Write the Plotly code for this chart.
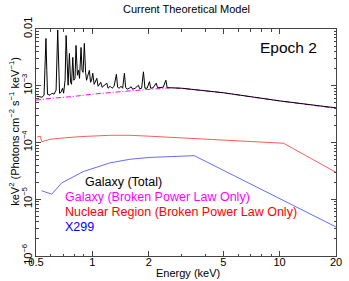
import plotly.graph_objects as go

# ---------------- data ----------------
total_energy = [0.503, 0.525, 0.538, 0.552, 0.562, 0.565, 0.571, 0.576, 0.594, 0.609,
                0.624, 0.640, 0.653, 0.662, 0.668, 0.680, 0.693, 0.702, 0.715, 0.724,
                0.733, 0.742, 0.754, 0.765, 0.774, 0.786, 0.796, 0.808, 0.818, 0.832,
                0.844, 0.854, 0.870, 0.881, 0.892, 0.906, 0.920, 0.931, 0.943, 0.964,
                0.978, 0.991, 1.005, 1.022, 1.034, 1.056, 1.073, 1.093, 1.109, 1.127,
                1.155, 1.194, 1.213, 1.244, 1.274, 1.306, 1.344, 1.364, 1.389, 1.424,
                1.451, 1.483, 1.505, 1.533, 1.572, 1.611, 1.641, 1.692, 1.762, 1.788,
                1.833, 1.874, 1.909, 1.961, 2.018, 2.048, 2.112, 2.191, 2.232, 2.302,
                2.388, 2.469, 2.509, 2.604, 3.0, 5.0, 10.0, 20.0]
total_flux = [6.54e-4, 6.41e-4, 6.28e-4, 6.81e-4, 2.80e-3, 6.81e-3, 1.87e-3, 7.09e-4, 6.81e-4, 7.39e-4,
              7.09e-4, 8.34e-4, 9.61e-3, 1.25e-3, 7.39e-4, 7.69e-4, 9.04e-4, 7.39e-4, 1.25e-3, 7.69e-3,
              1.53e-3, 1.02e-3, 3.72e-3, 1.15e-3, 1.06e-3, 3.16e-3, 1.25e-3, 1.35e-3, 5.13e-3, 1.53e-3,
              1.87e-3, 1.35e-3, 4.73e-3, 1.87e-3, 1.72e-3, 5.57e-3, 1.72e-3, 1.25e-3, 1.47e-3, 1.87e-3,
              1.15e-3, 1.25e-3, 1.66e-3, 1.06e-3, 1.15e-3, 1.35e-3, 9.80e-4, 1.06e-3, 1.15e-3, 9.41e-4,
              1.02e-3, 1.11e-3, 9.04e-4, 9.80e-4, 9.04e-4, 9.80e-4, 1.59e-3, 9.41e-4, 9.04e-4, 9.80e-4,
              9.04e-4, 1.66e-3, 9.41e-4, 8.68e-4, 9.04e-4, 9.60e-4, 8.68e-4, 9.04e-4, 1.02e-3, 8.86e-4,
              9.04e-4, 1.76e-3, 9.04e-4, 9.04e-4, 1.18e-3, 9.04e-4, 9.22e-4, 1.11e-3, 9.22e-4, 9.22e-4,
              9.41e-4, 1.25e-3, 9.22e-4, 9.22e-4, 9.04e-4, 7.54e-4, 5.41e-4, 4.08e-4]

galaxy_bpl_energy = [0.5, 0.6, 0.8, 1.0, 1.5, 2.0, 2.6, 3.0, 5.0, 10.0, 20.0]
galaxy_bpl_flux = [5.57e-4, 6.0e-4, 6.5e-4, 7.1e-4, 8.0e-4, 8.7e-4, 9.2e-4, 9.0e-4, 7.5e-4, 5.4e-4, 4.0e-4]

nuclear_energy = [0.508, 0.528, 0.536, 0.594, 0.715, 0.861, 1.244, 1.59, 2.03, 3.76, 5.44, 10.5, 20.0]
nuclear_flux = [1.26e-4, 1.29e-4, 1.03e-4, 1.14e-4, 1.21e-4, 1.27e-4, 1.34e-4, 1.34e-4, 1.29e-4,
                1.15e-4, 1.08e-4, 9.7e-5, 2.98e-5]

x299_energy = [0.536, 0.607, 0.686, 0.896, 1.24, 1.59, 2.03, 2.94, 3.5, 20.0]
x299_flux = [1.41e-5, 1.23e-5, 1.94e-5, 3.08e-5, 4.37e-5, 5.07e-5, 5.46e-5, 5.8e-5, 5.86e-5, 3.25e-6]

x_tick_vals = [0.5, 1, 2, 5, 10, 20]
x_tick_text = ["0.5", "1", "2", "5", "10", "20"]
x_minor_vals = [0.6, 0.7, 0.8, 0.9, 3, 4, 6, 7, 8, 9]
y_tick_vals = [1e-6, 1e-5, 1e-4, 1e-3, 1e-2]
y_tick_text = ["10<sup>−6</sup>", "10<sup>−5</sup>", "10<sup>−4</sup>", "10<sup>−3</sup>", "0.01"]
y_minor_vals = [m * 10 ** e for e in range(-6, -2) for m in range(2, 10)]

legend_labels = ["Galaxy (Total)", "Galaxy (Broken Power Law Only)",
                 "Nuclear Region (Broken Power Law Only)", "X299"]

# ---------------- figure ----------------
FONT = "Liberation Sans, Arial, Helvetica, sans-serif"
fig = go.Figure()
fig.add_trace(go.Scatter(x=galaxy_bpl_energy, y=galaxy_bpl_flux, mode="lines",
                         line=dict(color="#ff00ff", width=1, dash="5px,2px,1px,2px")))
fig.add_trace(go.Scatter(x=nuclear_energy, y=nuclear_flux, mode="lines",
                         line=dict(color="#ff5a5a", width=1)))
fig.add_trace(go.Scatter(x=x299_energy, y=x299_flux, mode="lines",
                         line=dict(color="#6a6aff", width=1)))
fig.add_trace(go.Scatter(x=total_energy, y=total_flux, mode="lines",
                         line=dict(color="black", width=1)))

axis_common = dict(showline=True, linecolor="#444", linewidth=1, mirror="ticks",
                   ticks="inside", ticklen=5, tickcolor="#444", tickwidth=1,
                   showgrid=False, zeroline=False,
                   tickfont=dict(family=FONT, size=11, color="black"))

fig.update_xaxes(type="log", range=[-0.30103, 1.30103], tickvals=x_tick_vals, ticktext=x_tick_text,
                 ticklabelstandoff=-4,
                 minor=dict(tickvals=x_minor_vals, ticks="inside", ticklen=2.5, tickcolor="#444"),
                 **axis_common)
fig.update_yaxes(type="log", range=[-6, -2], tickvals=y_tick_vals, ticktext=y_tick_text,
                 tickangle=-90, ticklabelstandoff=-1,
                 minor=dict(tickvals=y_minor_vals, ticks="inside", ticklen=2.5, tickcolor="#444"),
                 **axis_common)

def ann(text, x, y, color="black", size=12.5, xanchor="left", yanchor="middle", angle=0):
    fig.add_annotation(text=text, x=x, y=y, xref="paper", yref="paper", showarrow=False,
                       xanchor=xanchor, yanchor=yanchor, textangle=angle,
                       font=dict(family=FONT, size=size, color=color))

ann("Current Theoretical Model", 0.5, 1.0888, size=11, xanchor="center")
ann("Energy (keV)", 0.505, -0.075, size=11, xanchor="center")
ann("keV<sup>2</sup> (Photons cm<sup>−2</sup> s<sup>−1</sup> keV<sup>−1</sup>)", -0.072, 0.549,
    size=11, xanchor="center", angle=-90)
ann("Epoch 2", 0.942, 0.920, size=15.5, xanchor="right")
ann(legend_labels[0], 0.1568, 0.3266, color="black")
ann(legend_labels[1], 0.0901, 0.258, color="#ff00ff")
ann(legend_labels[2], 0.0901, 0.1947, color="#ff0000")
ann(legend_labels[3], 0.0901, 0.1262, color="#0000ff")

fig.update_layout(width=349, height=281, showlegend=False,
                  margin=dict(l=36, r=13.3, t=28.5, b=25, autoexpand=False),
                  plot_bgcolor="white", paper_bgcolor="white",
                  font=dict(family=FONT, size=11, color="black"))

fig.write_html("out.html", config={"displayModeBar": False},
               post_script="document.body.style.margin='0';document.body.style.overflow='hidden';")
